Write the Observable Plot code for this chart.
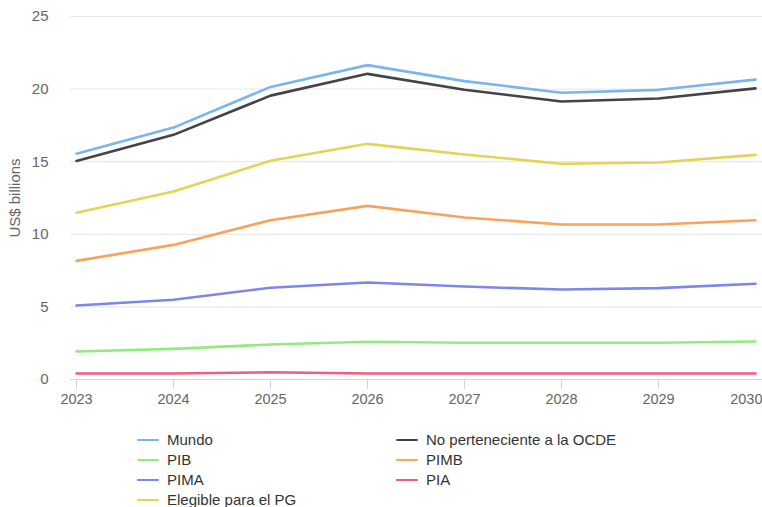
<!DOCTYPE html>
<html>
<head>
<meta charset="utf-8">
<script src="https://cdn.jsdelivr.net/npm/d3@7"></script>
<script src="https://cdn.jsdelivr.net/npm/@observablehq/plot@0.6"></script>
<style>
  body { margin: 0; background: #fff; font-family: "Liberation Sans", Arial, sans-serif; }
  #chart { width: 762px; }
  #legend { display: grid; grid-template-columns: 259px 300px; padding-left: 137px; padding-top: 20px; font-size: 15px; color: #333; }
  .item { display: flex; align-items: center; height: 20px; line-height: 20px; }
  .sw { width: 22px; height: 2.5px; margin-right: 8px; border-radius: 1px; }
</style>
</head>
<body>
<div id="chart"></div>
<div id="legend"></div>
<script>
const years = [2023, 2024, 2025, 2026, 2027, 2028, 2029, 2030];
const seriesNames = ["Mundo", "No perteneciente a la OCDE", "PIB", "PIMB", "PIMA", "PIA", "Elegible para el PG"];
const colors = ["#7cb5ec", "#434348", "#90ed7d", "#f7a35c", "#8085e9", "#f15c80", "#e4d354"];
const mundo = [15.55, 17.35, 20.15, 21.65, 20.55, 19.75, 19.95, 20.65];
const noOcde = [15.05, 16.85, 19.55, 21.05, 19.95, 19.15, 19.35, 20.05];
const pib = [1.93, 2.11, 2.41, 2.6, 2.53, 2.53, 2.53, 2.62];
const pimb = [8.17, 9.27, 10.97, 11.96, 11.16, 10.67, 10.67, 10.97];
const pima = [5.1, 5.49, 6.32, 6.68, 6.4, 6.2, 6.29, 6.59];
const pia = [0.41, 0.41, 0.5, 0.41, 0.41, 0.41, 0.41, 0.41];
const elegible = [11.48, 12.95, 15.06, 16.23, 15.5, 14.86, 14.94, 15.47];
const yTicks = [0, 5, 10, 15, 20, 25];
const yTitle = "US$ billions";

const valuesBySeries = [mundo, noOcde, pib, pimb, pima, pia, elegible];
const data = [];
seriesNames.forEach((name, i) => {
  years.forEach((yr, j) => data.push({series: name, year: yr, value: valuesBySeries[i][j]}));
});
const drawOrder = ["Elegible para el PG", "PIA", "PIMA", "PIMB", "PIB", "No perteneciente a la OCDE", "Mundo"];
const lastYear = years[years.length - 1];

const chart = Plot.plot({
  width: 762,
  height: 410,
  marginLeft: 70,
  marginRight: 0,
  marginTop: 16,
  marginBottom: 31,
  style: {fontFamily: '"Liberation Sans", Arial, sans-serif', fontSize: "15px", color: "#666", background: "#fff", overflow: "visible"},
  x: {domain: [2023, 2030], insetLeft: 6, insetRight: 7, label: null},
  y: {domain: [0, 25], label: null},
  marks: [
    Plot.ruleY(yTicks.filter(d => d > 0), {stroke: "#e6e6e6", strokeWidth: 1}),
    Plot.ruleY([0], {stroke: "#ccd6eb", strokeWidth: 1}),
    Plot.axisY({ticks: yTicks, tickSize: 0, tickPadding: 22, fontSize: 15, fill: "#666"}),
    Plot.text([yTitle], {frameAnchor: "left", dx: -55, rotate: -90, textAnchor: "middle", fontSize: 15, fill: "#666", text: d => d}),
    Plot.axisX({ticks: years.slice(0, -1), tickFormat: d => String(d), tickSize: 10, stroke: "#ccd6eb", strokeOpacity: 1, tickPadding: 4, fontSize: 14.5, fill: "#666"}),
    Plot.axisX({ticks: [lastYear], tickFormat: d => String(d), tickSize: 10, stroke: "#ccd6eb", strokeOpacity: 1, tickPadding: 4, fontSize: 14.5, fill: "#666", textAnchor: "end", dx: 7}),
    ...drawOrder.map(name => Plot.line(data.filter(d => d.series === name), {x: "year", y: "value", stroke: colors[seriesNames.indexOf(name)], strokeWidth: 2.6}))
  ]
});
document.getElementById("chart").appendChild(chart);

const legend = document.getElementById("legend");
seriesNames.forEach((name, i) => {
  const item = document.createElement("div");
  item.className = "item";
  const sw = document.createElement("span");
  sw.className = "sw";
  sw.style.background = colors[i];
  const t = document.createElement("span");
  t.textContent = name;
  item.appendChild(sw); item.appendChild(t);
  legend.appendChild(item);
});
</script>
</body>
</html>
